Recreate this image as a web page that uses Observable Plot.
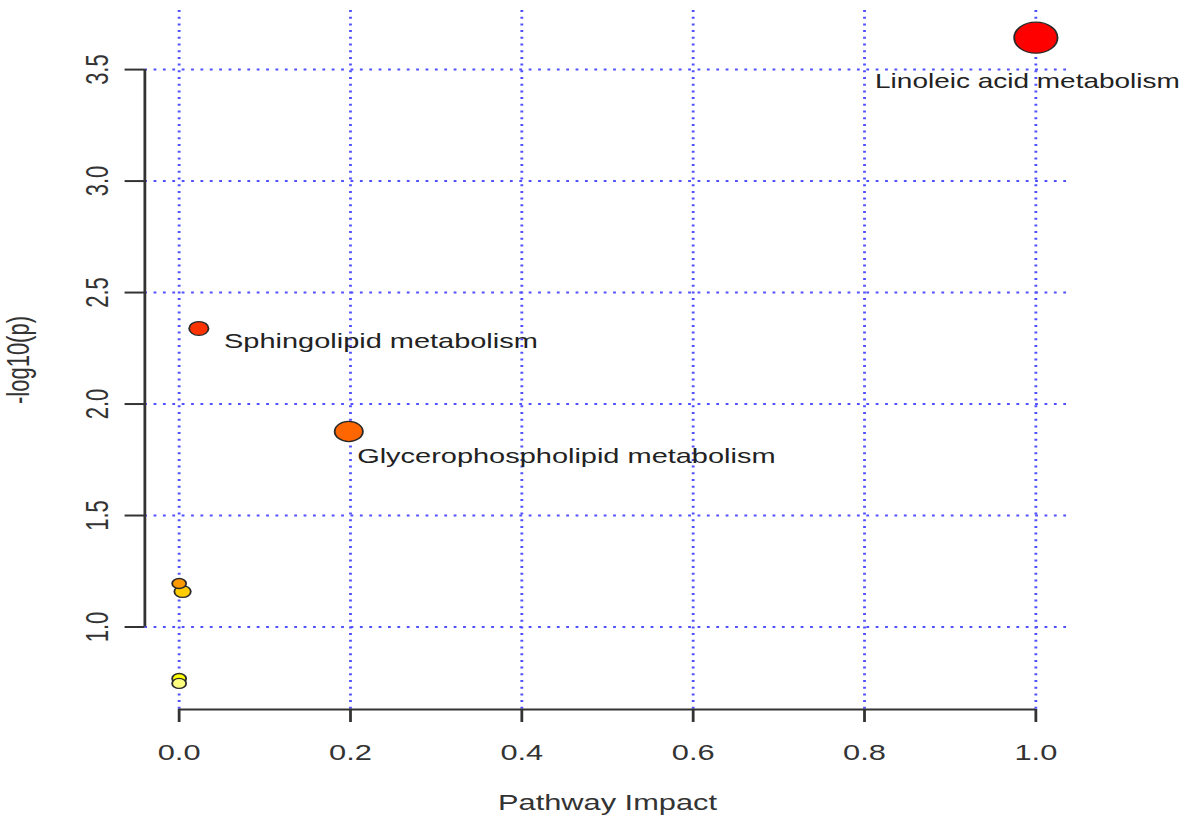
<!DOCTYPE html>
<html><head><meta charset="utf-8">
<script src="https://cdn.jsdelivr.net/npm/d3@7"></script>
<script src="https://cdn.jsdelivr.net/npm/@observablehq/plot@0.6"></script>
<style>
html,body{margin:0;padding:0;background:#fff;overflow:hidden;}
#chart svg{transform:scaleX(1.39977);transform-origin:0 0;display:block;}
</style></head><body><div id="chart"></div>
<script>
// ---- data ----
const pathways = ["Linoleic acid metabolism", "Sphingolipid metabolism", "Glycerophospholipid metabolism", "", "", "", ""];
const impact = [1.0, 0.023, 0.198, 0.0, 0.004, 0.0, 0.0];
const negLog10P = [3.643, 2.339, 1.877, 1.195, 1.159, 0.769, 0.747];
const xTicks = [0, 0.2, 0.4, 0.6, 0.8, 1.0];
const yTicks = [1.0, 1.5, 2.0, 2.5, 3.0, 3.5];
const xTitle = "Pathway Impact";
const yTitle = "-log10(p)";

// ---- table for Plot ----
const data = pathways.map((name, i) => ({name, impact: impact[i], p: negLog10P[i]}));
const rankOrder = negLog10P.slice().sort((a, b) => b - a);
const heat = ["#FF0000", "#FF3300", "#FF6600", "#FF9900", "#FFCC00", "#FFFF00", "#FFFF80"];

const xDomain = [-0.04, 1.04];
const yDomain = [0.63, 3.765];
const fmt = d3.format(".1f");
const grid = {stroke: "#5050ff", strokeWidth: 2, strokeDasharray: "2,4.7"};
const axisCol = "#333";

const labelPlacement = {
  "Linoleic acid metabolism": {textAnchor: "middle", dx: -6, dy: 44, fontSize: 20},
  "Sphingolipid metabolism": {textAnchor: "start", dx: 18, dy: 13, fontSize: 20.7},
  "Glycerophospholipid metabolism": {textAnchor: "start", dx: 6, dy: 25, fontSize: 20.7}
};

const chart = Plot.plot({
  width: 853,
  height: 820,
  marginLeft: 103,
  marginRight: 89,
  marginTop: 10,
  marginBottom: 111,
  style: {fontFamily: "'Liberation Sans', Arial, sans-serif", color: "#222", background: "#fff"},
  x: {domain: xDomain},
  y: {domain: yDomain},
  r: {type: "pow", exponent: 0.45, domain: [0, 1], range: [5, 15.5]},
  color: {type: "ordinal", domain: rankOrder, range: heat},
  marks: [
    Plot.ruleX(xTicks, {x: d => d, ...grid}),
    Plot.ruleY(yTicks, {y: d => d, ...grid}),
    Plot.ruleX([xDomain[0]], {y1: yTicks[0], y2: yTicks[yTicks.length - 1], stroke: axisCol, strokeWidth: 2}),
    Plot.ruleY([yDomain[0]], {x1: xTicks[0], x2: xTicks[xTicks.length - 1], stroke: axisCol, strokeWidth: 2}),
    Plot.axisX({ticks: xTicks, tickSize: 13, fill: "none", stroke: axisCol, strokeWidth: 2, label: null}),
    Plot.axisY({ticks: yTicks, tickSize: 14, fill: "none", stroke: axisCol, strokeWidth: 2, label: null}),
    Plot.text(xTicks, {x: d => d, text: d => fmt(d), frameAnchor: "bottom", dy: 43, textAnchor: "middle", lineAnchor: "middle", fontSize: 22, fill: "#333"}),
    Plot.text(yTicks, {y: d => d, text: d => fmt(d), frameAnchor: "left", dx: -33.6, rotate: -90, textAnchor: "middle", lineAnchor: "middle", fontSize: 22, fill: "#333"}),
    Plot.text([xTitle], {frameAnchor: "bottom", dy: 93, textAnchor: "middle", lineAnchor: "middle", fontSize: 22, fill: "#333"}),
    Plot.text([yTitle], {frameAnchor: "left", dx: -90, rotate: -90, textAnchor: "middle", lineAnchor: "middle", fontSize: 22, fill: "#333"}),
    Plot.dot(data, {x: "impact", y: "p", r: "impact", fill: "p", stroke: "#2a2a2a", strokeWidth: 1.3}),
    ...Object.entries(labelPlacement).map(([name, o]) =>
      Plot.text(data.filter(d => d.name === name), {x: "impact", y: "p", text: "name", lineAnchor: "middle", fill: "#222", ...o})
    )
  ]
});
document.getElementById("chart").appendChild(chart);
</script>
</body></html>
